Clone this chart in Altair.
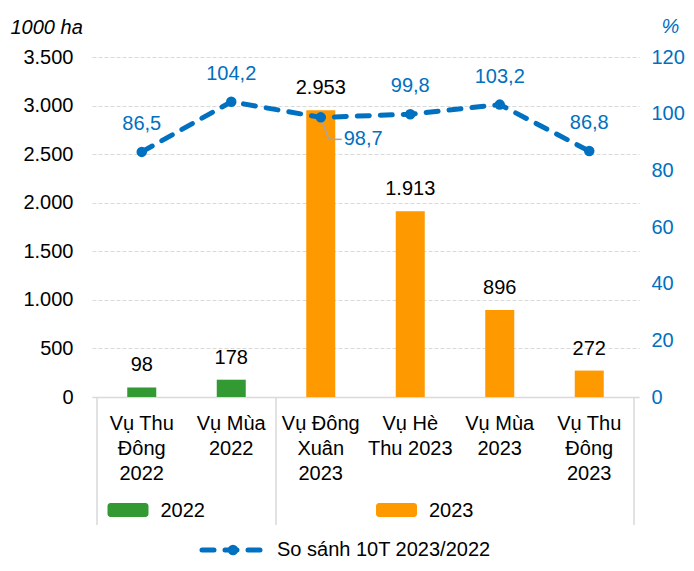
import altair as alt
import pandas as pd

# ---- data ----
categories = ["Vụ Thu\nĐông\n2022", "Vụ Mùa\n2022", "Vụ Đông\nXuân\n2023",
              "Vụ Hè\nThu 2023", "Vụ Mùa\n2023", "Vụ Thu\nĐông\n2023"]
years = ["2022", "2022", "2023", "2023", "2023", "2023"]
area = [98, 178, 2953, 1913, 896, 272]            # 1000 ha
pct = [86.5, 104.2, 98.7, 99.8, 103.2, 86.8]       # %
left_ticks = [0, 500, 1000, 1500, 2000, 2500, 3000, 3500]
right_ticks = [0, 20, 40, 60, 80, 100, 120]
year_names = ["2022", "2023"]
year_colors = ["#339933", "#FF9900"]
line_label = "So sánh 10T 2023/2022"
left_title = "1000 ha"
right_title = "%"

BLUE = "#0070C0"
GRID = "#D9D9D9"
FONT = "Liberation Sans"
W, H = 547, 340

df = pd.DataFrame({"idx": list(range(len(categories))), "cat": categories,
                   "year": years, "area": area, "pct": pct})

# group spans (for separators and the group legend)
grp_rows = []
bounds = set()
for y in year_names:
    ids = [i for i, v in enumerate(years) if v == y]
    grp_rows.append({"idx": (ids[0] + ids[-1]) / 2, "year": y})
    bounds.add(ids[0] - 0.5)
    bounds.add(ids[-1] + 0.5)
grp = pd.DataFrame(grp_rows)
sep = pd.DataFrame({"idx": sorted(bounds)})
callout_idx = 2

x_scale = alt.Scale(domain=[-0.5, len(categories) - 0.5], nice=False, zero=False)
X = alt.X("idx:Q", scale=x_scale,
          axis=alt.Axis(labels=False, ticks=False, grid=False, title=None,
                        domainColor=GRID, domainWidth=1.5))
color_scale = alt.Scale(domain=year_names, range=year_colors)

left_axis = alt.Axis(values=left_ticks,
                     labelExpr="replace(format(datum.value, ','), ',', '.')",
                     labelFontSize=20, labelColor="black", labelPadding=19, labelFont=FONT,
                     ticks=False, domain=False, grid=True, gridColor=GRID, gridDash=[4, 2],
                     title=left_title, titleAngle=0, titleX=-82, titleY=-30,
                     titleAlign="left", titleBaseline="middle", titleFontStyle="italic",
                     titleFontWeight="normal", titleFontSize=20, titleColor="black",
                     titleFont=FONT)
YL = alt.Y("area:Q", scale=alt.Scale(domain=[0, 3500], nice=False), axis=left_axis)

right_axis = alt.Axis(orient="right", values=right_ticks,
                      labelFontSize=20, labelColor=BLUE, labelPadding=12, labelFont=FONT,
                      ticks=False, domain=False, grid=False,
                      title=right_title, titleAngle=0, titleX=31, titleY=-31,
                      titleAlign="center", titleBaseline="middle", titleFontStyle="italic",
                      titleFontWeight="normal", titleFontSize=20, titleColor=BLUE,
                      titleFont=FONT)
YR = alt.Y("pct:Q", scale=alt.Scale(domain=[0, 120], nice=False), axis=right_axis)

base = alt.Chart(df)

bars = base.mark_bar(size=29).encode(
    x=X, y=YL, color=alt.Color("year:N", scale=color_scale, legend=None))
bar_labels = base.transform_calculate(
    lab="replace(format(datum.area, ','), ',', '.')"
).mark_text(dy=-22, fontSize=20, font=FONT, color="black", baseline="middle").encode(
    x=X, y=YL, text="lab:N")

# category labels under the plot
cat_text = base.mark_text(lineBreak="\n", fontSize=20, font=FONT, color="black",
                          baseline="top", lineHeight=25).encode(
    x=X, y=alt.value(H + 17), text="cat:N")

seps = alt.Chart(sep).mark_rule(color=GRID, strokeWidth=1.5).encode(
    x=X, y=alt.value(H), y2=alt.value(H + 128))

grp_rect = alt.Chart(grp).mark_rect(xOffset=-79, x2Offset=-38, cornerRadius=3).encode(
    x=X, x2="idx:Q", y=alt.value(H + 106), y2=alt.value(H + 120),
    color=alt.Color("year:N", scale=color_scale, legend=None))
grp_text = alt.Chart(grp).mark_text(align="left", dx=-26, baseline="middle",
                                    fontSize=20, font=FONT, color="black").encode(
    x=X, y=alt.value(H + 114), text="year:N")

leg_df = pd.DataFrame({"t": [line_label]})
LEG_Y = H + 153
leg_line = alt.Chart(leg_df).mark_rule(color=BLUE, strokeWidth=5, strokeDash=[12, 11],
                                       strokeCap="round").encode(
    x=alt.value(110), x2=alt.value(174), y=alt.value(LEG_Y))
leg_dot = alt.Chart(leg_df).mark_circle(size=110, color=BLUE, opacity=1).encode(
    x=alt.value(141), y=alt.value(LEG_Y))
leg_text = alt.Chart(leg_df).mark_text(align="left", baseline="middle", fontSize=20,
                                       font=FONT, color="black").encode(
    x=alt.value(185), y=alt.value(LEG_Y), text="t:N")

left = alt.layer(bars, bar_labels, cat_text, seps, grp_rect, grp_text,
                 leg_line, leg_dot, leg_text)

line = base.mark_line(color=BLUE, strokeWidth=5, strokeDash=[12, 11],
                      strokeCap="round").encode(x=X, y=YR)
lead1 = base.transform_filter(f"datum.idx == {callout_idx}").mark_rule(
    color="#A6A6A6", strokeWidth=1.5, x2Offset=8, y2Offset=22).encode(
    x=X, x2="idx:Q", y=YR, y2="pct:Q")
lead2 = base.transform_filter(f"datum.idx == {callout_idx}").mark_rule(
    color="#A6A6A6", strokeWidth=1.5, xOffset=8, yOffset=22, x2Offset=21,
    y2Offset=22).encode(x=X, x2="idx:Q", y=YR, y2="pct:Q")
pts = base.mark_circle(size=110, color=BLUE, opacity=1).encode(x=X, y=YR)
pct_calc = "replace(format(datum.pct, '.1f'), '.', ',')"
pct_labels = base.transform_filter(f"datum.idx != {callout_idx}").transform_calculate(
    lab=pct_calc).mark_text(dy=-28, fontSize=20, font=FONT, color=BLUE,
                            baseline="middle").encode(x=X, y=YR, text="lab:N")
pct_callout = base.transform_filter(f"datum.idx == {callout_idx}").transform_calculate(
    lab=pct_calc).mark_text(dx=23, dy=22, align="left", fontSize=20, font=FONT,
                            color=BLUE, baseline="middle").encode(x=X, y=YR, text="lab:N")

right = alt.layer(line, lead1, lead2, pts, pct_labels, pct_callout)

chart = alt.layer(left, right).resolve_scale(y="independent").properties(
    width=W, height=H,
    padding={"left": 84, "top": 49, "right": 47, "bottom": 166},
    autosize=alt.AutoSizeParams(type="none"),
).configure(font=FONT).configure_view(stroke=None, strokeWidth=0)

chart.save("out.html", embed_options={"renderer": "svg", "actions": False})
